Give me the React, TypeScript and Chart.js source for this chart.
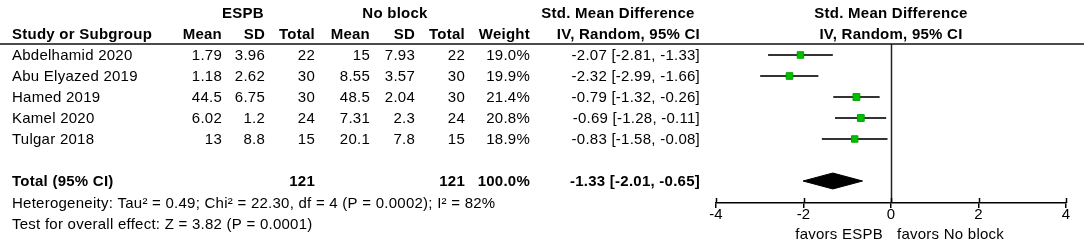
import React, { useEffect, useRef } from "react";
import { Chart, registerables } from "chart.js";

Chart.register(...registerables);

const studies = ["Abdelhamid 2020", "Abu Elyazed 2019", "Hamed 2019", "Kamel 2020", "Tulgar 2018"];
const espbMean = [1.79, 1.18, 44.5, 6.02, 13];
const espbSD = [3.96, 2.62, 6.75, 1.2, 8.8];
const espbN = [22, 30, 30, 24, 15];
const noMean = [15, 8.55, 48.5, 7.31, 20.1];
const noSD = [7.93, 3.57, 2.04, 2.3, 7.8];
const noN = [22, 30, 30, 24, 15];
const weights = [19.0, 19.9, 21.4, 20.8, 18.9];
const smd = [-2.07, -2.32, -0.79, -0.69, -0.83];
const ciLow = [-2.81, -2.99, -1.32, -1.28, -1.58];
const ciHigh = [-1.33, -1.66, -0.26, -0.11, -0.08];

const totalEspbN = 121;
const totalNoN = 121;
const totalWeight = 100.0;
const pooled = -1.33;
const pooledLow = -2.01;
const pooledHigh = -0.65;

const heterogeneityText = "Heterogeneity: Tau\u00B2 = 0.49; Chi\u00B2 = 22.30, df = 4 (P = 0.0002); I\u00B2 = 82%";
const overallText = "Test for overall effect: Z = 3.82 (P = 0.0001)";
const xTicks = [-4, -2, 0, 2, 4];

const TOTAL_ROW = 6;
const HET_ROW = 7;
const TEST_ROW = 8;

const FONT = "'Liberation Sans', Arial, sans-serif";
const FS = 15;

const fmtCI = (e: number, l: number, h: number) =>
  `${e.toFixed(2)} [${l.toFixed(2)}, ${h.toFixed(2)}]`;

export default function App() {
  const ref = useRef<HTMLCanvasElement | null>(null);

  useEffect(() => {
    const canvas = ref.current;
    if (!canvas) return;

    const whiskers = studies.map((_, i) => ({
      type: "scatter" as const,
      data: [
        { x: ciLow[i], y: i },
        { x: ciHigh[i], y: i },
      ],
      showLine: true,
      borderColor: "#333333",
      borderWidth: 2,
      pointRadius: 0,
      order: 2,
    }));

    const squares = {
      type: "scatter" as const,
      data: smd.map((v, i) => ({ x: v, y: i })),
      pointStyle: "rect" as const,
      pointRadius: weights.map((w) => Math.sqrt(w) * 1.05),
      backgroundColor: "#00c000",
      borderColor: "#00a000",
      borderWidth: 1,
      order: 1,
    };

    const dh = 0.38;
    const diamond = {
      type: "scatter" as const,
      data: [
        { x: pooledLow, y: TOTAL_ROW },
        { x: pooled, y: TOTAL_ROW - dh },
        { x: pooledHigh, y: TOTAL_ROW },
        { x: pooled, y: TOTAL_ROW + dh },
        { x: pooledLow, y: TOTAL_ROW },
      ],
      showLine: true,
      fill: "shape" as const,
      backgroundColor: "#000000",
      borderColor: "#000000",
      borderWidth: 1,
      pointRadius: 0,
      tension: 0,
      order: 1,
    };

    const textPlugin = {
      id: "forestText",
      beforeDatasetsDraw(chart: any) {
        const ctx = chart.ctx;
        const x = chart.scales.x;
        const area = chart.chartArea;
        ctx.save();
        ctx.strokeStyle = "#222222";
        ctx.lineWidth = 1.5;
        const x0 = Math.round(x.getPixelForValue(0)) + 0.5;
        ctx.beginPath();
        ctx.moveTo(x0, area.top);
        ctx.lineTo(x0, area.bottom);
        ctx.stroke();
        ctx.restore();
      },
      afterDraw(chart: any) {
        const ctx = chart.ctx;
        const xs = chart.scales.x;
        const ys = chart.scales.y;
        const area = chart.chartArea;
        const py = (r: number) => ys.getPixelForValue(r) + 1;
        ctx.save();
        ctx.fillStyle = "#000";
        ctx.textBaseline = "middle";
        try {
          (ctx as any).letterSpacing = "0.25px";
        } catch (e) {}

        const put = (t: string, x: number, y: number, align: CanvasTextAlign, bold = false) => {
          ctx.font = `${bold ? "bold " : ""}${FS}px ${FONT}`;
          ctx.textAlign = align;
          ctx.fillText(t, x, y);
        };

        const cMean1 = 222, cSD1 = 265, cN1 = 315, cMean2 = 370, cSD2 = 415, cN2 = 465, cW = 530, cCI = 700, cL = 12;
        const plotCenter = xs.getPixelForValue(0);

        const h1 = py(-2), h2 = py(-1);
        put("ESPB", 243, h1, "center", true);
        put("No block", 395, h1, "center", true);
        put("Std. Mean Difference", 618, h1, "center", true);
        put("Std. Mean Difference", plotCenter, h1, "center", true);
        put("Study or Subgroup", cL, h2, "left", true);
        put("Mean", cMean1, h2, "right", true);
        put("SD", cSD1, h2, "right", true);
        put("Total", cN1, h2, "right", true);
        put("Mean", cMean2, h2, "right", true);
        put("SD", cSD2, h2, "right", true);
        put("Total", cN2, h2, "right", true);
        put("Weight", cW, h2, "right", true);
        put("IV, Random, 95% CI", cCI, h2, "right", true);
        put("IV, Random, 95% CI", plotCenter, h2, "center", true);

        ctx.strokeStyle = "#111";
        ctx.lineWidth = 1.5;
        ctx.beginPath();
        ctx.moveTo(0, area.top);
        ctx.lineTo(chart.width, area.top);
        ctx.stroke();

        studies.forEach((s, i) => {
          const y = py(i);
          put(s, cL, y, "left");
          put(String(espbMean[i]), cMean1, y, "right");
          put(String(espbSD[i]), cSD1, y, "right");
          put(String(espbN[i]), cN1, y, "right");
          put(String(noMean[i]), cMean2, y, "right");
          put(String(noSD[i]), cSD2, y, "right");
          put(String(noN[i]), cN2, y, "right");
          put(weights[i].toFixed(1) + "%", cW, y, "right");
          put(fmtCI(smd[i], ciLow[i], ciHigh[i]), cCI, y, "right");
        });

        const yt = py(TOTAL_ROW);
        put("Total (95% CI)", cL, yt, "left", true);
        put(String(totalEspbN), cN1, yt, "right", true);
        put(String(totalNoN), cN2, yt, "right", true);
        put(totalWeight.toFixed(1) + "%", cW, yt, "right", true);
        put(fmtCI(pooled, pooledLow, pooledHigh), cCI, yt, "right", true);

        put(heterogeneityText, cL, py(HET_ROW) + 1, "left");
        put(overallText, cL, py(TEST_ROW) + 1, "left");

        ctx.strokeStyle = "#000";
        ctx.lineWidth = 1.5;
        xTicks.forEach((t) => {
          const px = Math.round(xs.getPixelForValue(t)) + 0.5;
          ctx.beginPath();
          ctx.moveTo(px, area.bottom - 5);
          ctx.lineTo(px, area.bottom);
          ctx.stroke();
        });

        const fy = area.bottom + 32;
        put("favors ESPB", plotCenter - 8, fy, "right");
        put("favors No block", plotCenter + 6, fy, "left");
        ctx.restore();
      },
    };

    const rowSpacing = 21;
    const top = 44;
    const bottom = 203;
    const firstRowPx = 55;
    const yMin = -(firstRowPx - top) / rowSpacing;
    const yMax = yMin + (bottom - top) / rowSpacing;

    const chart = new Chart(canvas, {
      type: "scatter",
      data: { datasets: [...whiskers, squares, diamond] as any },
      options: {
        animation: false,
        responsive: false,
        devicePixelRatio: 1,
        events: [],
        layout: { padding: { left: 716, right: 18, top: top, bottom: 0 } },
        plugins: { legend: { display: false }, tooltip: { enabled: false } },
        scales: {
          x: {
            type: "linear",
            min: -4,
            max: 4,
            afterBuildTicks: (scale: any) => {
              scale.ticks = xTicks.map((v) => ({ value: v }));
            },
            afterFit: (scale: any) => {
              scale.height = 247 - bottom;
            },
            border: { display: true, color: "#000", width: 1.5 },
            grid: { drawOnChartArea: false, drawTicks: true, tickLength: 5, color: "#000", lineWidth: 1.5 },
            ticks: {
              color: "#000",
              font: { family: FONT, size: FS },
              padding: -2,
              maxRotation: 0,
              autoSkip: false,
              callback: (v: any) => String(v),
            },
          },
          y: {
            type: "linear",
            display: false,
            reverse: true,
            min: yMin,
            max: yMax,
          },
        },
      },
      plugins: [textPlugin],
    });

    return () => chart.destroy();
  }, []);

  return (
    <canvas
      ref={ref}
      width={1084}
      height={247}
      style={{ position: "absolute", left: 0, top: 0, width: 1084, height: 247, background: "#fff" }}
    />
  );
}
